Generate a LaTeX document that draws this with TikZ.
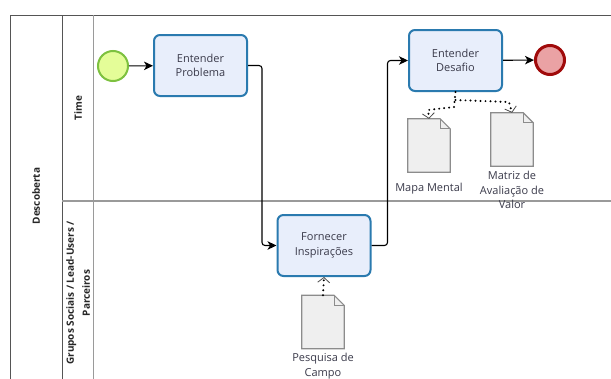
\documentclass[tikz,border=0pt]{standalone}
\usepackage{fontspec}
\setmainfont{Open Sans}
\usetikzlibrary{arrows.meta}
\definecolor{taskfill}{HTML}{E8EEFB}
\definecolor{taskline}{HTML}{2A7AAF}
\definecolor{startfill}{HTML}{E4FD98}
\definecolor{startline}{HTML}{7DC13F}
\definecolor{endfill}{HTML}{EAA2A4}
\definecolor{endline}{HTML}{A00A0A}
\definecolor{docfill}{HTML}{EFEFEF}
\definecolor{docline}{HTML}{8C8C8C}
\definecolor{pooldark}{HTML}{555555}
\definecolor{poolsoft}{HTML}{9A9A9A}
\definecolor{txt}{HTML}{3A3A4A}
\tikzset{
  task/.style={draw=taskline, fill=taskfill, line width=2pt, rounded corners=6pt,
    minimum width=93pt, minimum height=61pt, align=center, inner sep=2pt,
    font=\fontsize{11}{14.5}\selectfont, text=txt},
  startev/.style={circle, draw=startline, fill=startfill, line width=2pt,
    minimum size=30pt, inner sep=0pt},
  endev/.style={circle, draw=endline, fill=endfill, line width=3pt,
    minimum size=29pt, inner sep=0pt},
  docbox/.style={minimum width=42pt, minimum height=53pt, inner sep=0pt},
  doclabel/.style={align=center, font=\fontsize{11}{14.5}\selectfont, text=txt},
  lanelabel/.style={rotate=90, align=center, font=\fontsize{10}{16}\selectfont\bfseries, text=black!85},
  seq/.style={draw=black, line width=1.1pt, rounded corners=3pt,
    -{Stealth[length=9pt, width=8.5pt, inset=2.5pt]}},
  assoc/.style={draw=black, line width=2.2pt, line cap=round,
    dash pattern=on 0pt off 5pt,
    -{Straight Barb[length=5pt, width=12pt, line width=0.8pt, color=black!70]}},
}
\newcommand\bpmndoc[1]{%
  \draw[draw=docline, fill=docfill, line width=1.2pt]
    (#1.south west) -- (#1.north west) -- ([xshift=-10pt]#1.north east)
    -- ([yshift=-10pt]#1.north east) -- (#1.south east) -- cycle;
  \draw[draw=docline, line width=1pt]
    ([xshift=-10pt]#1.north east) -- ([xshift=-10pt,yshift=-10pt]#1.north east)
    -- ([yshift=-10pt]#1.north east);
}
\begin{document}
\begin{tikzpicture}[x=1pt, y=-1pt]
  \useasboundingbox (0,0) rectangle (611,378);
  \fill[white] (0,0) rectangle (611,378);
  \clip (0,0) rectangle (611,378);

  % pool and lanes
  \draw[pooldark, line width=1pt] (10,400) -- (10,15) -- (620,15);
  \draw[pooldark, line width=1pt] (62,15) -- (62,400);
  \draw[poolsoft, line width=1pt] (93,15) -- (93,400);
  \draw[poolsoft, line width=2pt] (62,201) -- (620,201);

  \node[lanelabel] (pool) at (36,196) {Descoberta};
  \node[lanelabel] (lane1) at (78,108) {Time};
  \node[lanelabel] (lane2) at (78,293) {Grupos Sociais / Lead-Users /\\Parceiros};

  % flow objects
  \node[startev] (start) at (113,66) {};
  \node[task] (ep) at (200.5,65.5) {Entender\\Problema};
  \node[task] (fi) at (324,245.5) {Fornecer\\Inspirações};
  \node[task] (ed) at (455.5,60.5) {Entender\\Desafio};
  \node[endev] (end) at (550,60) {};

  % data objects
  \node[docbox] (mm) at (429,145.5) {};
  \node[docbox] (mz) at (512,139.5) {};
  \node[docbox] (pc) at (323,322) {};
  \bpmndoc{mm}
  \bpmndoc{mz}
  \bpmndoc{pc}
  \node[doclabel] (mmlab) at (429,189) {Mapa Mental};
  \node[doclabel] (mzlab) at (512,190) {Matriz de\\Avaliação de\\Valor};
  \node[doclabel] (pclab) at (323,366) {Pesquisa de\\Campo};

  % sequence flows
  \draw[seq] (start) -- (ep);
  \draw[seq] (ep.east) -- ++(14,0) |- (fi.west);
  \draw[seq] (fi.east) -- ++(16,0) |- (ed.west);
  \draw[seq] (ed) -- (end);

  % associations
  \coordinate (split) at ([yshift=-8pt]ed.south);
  \draw[assoc] (ed.south) -- (454,107) -- (428,110) -- (mm.north);
  \draw[assoc] (split) -- (509,102) -- (mz.north);
  \draw[assoc] (pc.north) -- (fi.south);
\end{tikzpicture}
\end{document}
